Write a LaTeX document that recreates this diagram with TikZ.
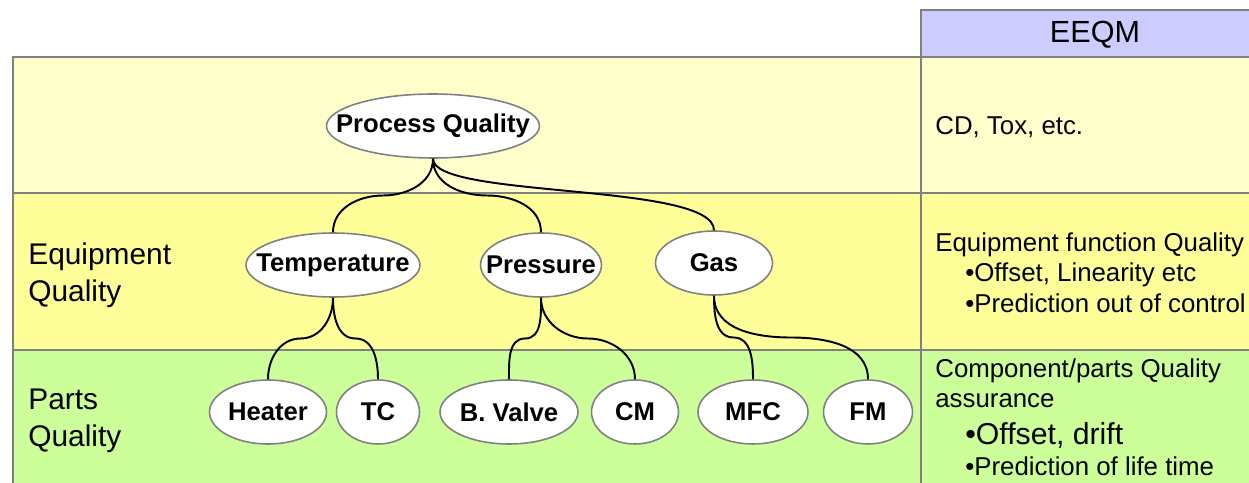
\documentclass[tikz,border=0pt]{standalone}
\usepackage{fontspec}
\setmainfont{Liberation Sans}
\usetikzlibrary{shapes.geometric,calc}
\definecolor{rowone}{HTML}{FFFFCC}
\definecolor{rowtwo}{HTML}{FFFF99}
\definecolor{rowthree}{HTML}{CCFF99}
\definecolor{headblue}{HTML}{CCCCFF}
\definecolor{gridgrey}{HTML}{808080}
\newcommand{\tight}[1]{\makebox[0pt]{#1}}
\tikzset{
  item/.style={ellipse, draw=gridgrey, line width=0.9pt, fill=white, inner sep=0pt,
    minimum height=1.28cm, font=\fontsize{14.6}{17}\selectfont\bfseries},
  branch/.style={line width=1.1pt},
  gridline/.style={draw=gridgrey, line width=1.1pt},
  rowtext/.style={inner sep=0pt, align=left, font=\fontsize{17}{21}\selectfont},
  note/.style={inner sep=0pt, align=left, font=\fontsize{14.7}{17.6}\selectfont},
}
\begin{document}
\begin{tikzpicture}[x=0.02cm,y=-0.02cm]
\useasboundingbox (0,0) rectangle (1249,483);
\clip (0,0) rectangle (1249,483);
% bands
\fill[rowone] (13,57) rectangle (1290,193);
\fill[rowtwo] (13,193) rectangle (1290,350);
\fill[rowthree] (13,350) rectangle (1290,500);
\fill[headblue] (921,10) rectangle (1290,57);
% grid
\draw[gridline] (13,500) -- (13,57) -- (1290,57);
\draw[gridline] (921,500) -- (921,10) -- (1290,10);
\draw[gridline] (13,193) -- (1290,193);
\draw[gridline] (13,350) -- (1290,350);
% headings and notes
\node[font=\fontsize{17.4}{20}\selectfont] (eeqm) at (1095,35) {EEQM};
\node[rowtext, anchor=north west] (equip) at (28,243) {Equipment\\Quality};
\node[rowtext, anchor=north west] (parts) at (28,389) {Parts\\Quality};
\node[note, anchor=west] (cd) at (935,127) {CD, Tox, etc.};
\node[note, anchor=north west] (func) at (935,232) {Equipment function Quality\\
  \hspace*{0.6cm}•Offset, Linearity etc\\
  \hspace*{0.6cm}•Prediction out of control};
\node[note, anchor=north west] (comp) at (935,358) {Component/parts Quality\\
  assurance\\[3.3pt]
  \hspace*{0.6cm}{\fontsize{17.2}{20}\selectfont •Offset, drift}\\[0pt]
  \hspace*{0.6cm}•Prediction of life time};
% tree
\node[item, minimum width=4.26cm] (pq) at (433,126) {\tight{Process Quality}};
\node[item, minimum width=3.48cm] (temp) at (333,265) {\tight{Temperature}};
\node[item, minimum width=2.42cm] (pres) at (541,265) {\tight{Pressure}};
\node[item, minimum width=2.34cm] (gas) at (714,263) {\tight{Gas}};
\node[item, minimum width=2.34cm] (heater) at (268,412) {\tight{Heater}};
\node[item, minimum width=1.66cm] (tc) at (378,412) {\tight{TC}};
\node[item, minimum width=2.76cm] (valve) at (509,412) {\tight{B. Valve}};
\node[item, minimum width=1.74cm] (cm) at (635,412) {\tight{CM}};
\node[item, minimum width=2.20cm] (mfc) at (753,412) {\tight{MFC}};
\node[item, minimum width=1.78cm] (fm) at (868,412) {\tight{FM}};
\draw[branch] (pq.south) to[out=-90,in=0] ($(pq.south)!.5!(temp.north)$) to[out=180,in=90] (temp.north);
\draw[branch] (pq.south) to[out=-90,in=180] ($(pq.south)!.5!(pres.north)$) to[out=0,in=90] (pres.north);
\draw[branch] (pq.south) .. controls +(0,40) and +(0,-48) .. (gas.north);
\draw[branch] (temp.south) to[out=-90,in=0] ($(temp.south)!.5!(heater.north)$) to[out=180,in=90] (heater.north);
\draw[branch] (temp.south) to[out=-90,in=180] ($(temp.south)!.5!(tc.north)$) to[out=0,in=90] (tc.north);
\draw[branch] (pres.south) to[out=-90,in=0] ($(pres.south)!.5!(valve.north)$) to[out=180,in=90] (valve.north);
\draw[branch] (pres.south) to[out=-90,in=180] ($(pres.south)!.5!(cm.north)$) to[out=0,in=90] (cm.north);
\draw[branch] (gas.south) to[out=-90,in=180] ($(gas.south)!.5!(mfc.north)$) to[out=0,in=90] (mfc.north);
\draw[branch] (gas.south) to[out=-90,in=180] ($(gas.south)!.5!(fm.north)$) to[out=0,in=90] (fm.north);
\end{tikzpicture}
\end{document}
